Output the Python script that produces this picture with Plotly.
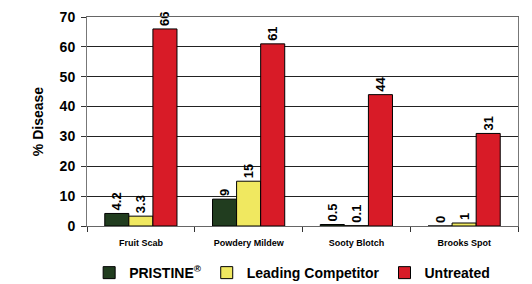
import plotly.graph_objects as go

categories = ["Fruit Scab", "Powdery Mildew", "Sooty Blotch", "Brooks Spot"]
pristine = [4.2, 9, 0.5, 0]
competitor = [3.3, 15, 0.1, 1]
untreated = [66, 61, 44, 31]
series_names = ["PRISTINE<sup>®</sup>", "Leading Competitor", "Untreated"]
colors = ["#213d1f", "#f0e860", "#d81b27"]

FONT = "Liberation Sans, Arial, sans-serif"

fig = go.Figure()
for name, vals, col in zip(series_names, [pristine, competitor, untreated], colors):
    fig.add_trace(go.Bar(
        x=categories, y=vals, name=name,
        marker=dict(color=col, line=dict(color="#000000", width=1)),
        text=[str(v) for v in vals], textposition="outside", textangle=-90,
        textfont=dict(family=FONT, size=13, color="#000000", weight="bold"),
        constraintext="none",
        cliponaxis=False,
    ))

fig.update_layout(
    width=532, height=284,
    margin=dict(l=87, r=14, t=17, b=58, autoexpand=False),
    paper_bgcolor="white", plot_bgcolor="white",
    barmode="group", bargap=0.33, bargroupgap=0,
    font=dict(family=FONT, color="#000000"),
    showlegend=True,
    legend=dict(orientation="h", x=0.476, xanchor="center",
                y=-0.225, yanchor="middle",
                font=dict(family=FONT, size=14, color="#000000", weight="bold"),
                itemwidth=30, tracegroupgap=0, borderwidth=0),
)
fig.update_xaxes(
    type="category", tickson="boundaries", ticks="outside", ticklen=5,
    tickcolor="#333333", showline=True, linecolor="#666666", linewidth=1, mirror=True,
    tickfont=dict(family=FONT, size=9, color="#000000", weight="bold"),
    ticklabelstandoff=8, automargin=False,
    showgrid=False,
)
fig.update_yaxes(
    range=[0, 70], dtick=10, ticks="outside", ticklen=5, tickcolor="#333333",
    showline=True, linecolor="#777777", linewidth=1, mirror=True,
    gridcolor="#222222", gridwidth=1, zeroline=False,
    tickfont=dict(family=FONT, size=14, color="#000000", weight="bold"),
    ticklabelstandoff=3, automargin=False,
    title=dict(text="% Disease", font=dict(family=FONT, size=14, color="#000000", weight="bold"), standoff=12),
)

fig.write_html("out.html", config={"displayModeBar": False},
               post_script="document.body.style.margin='0';")
